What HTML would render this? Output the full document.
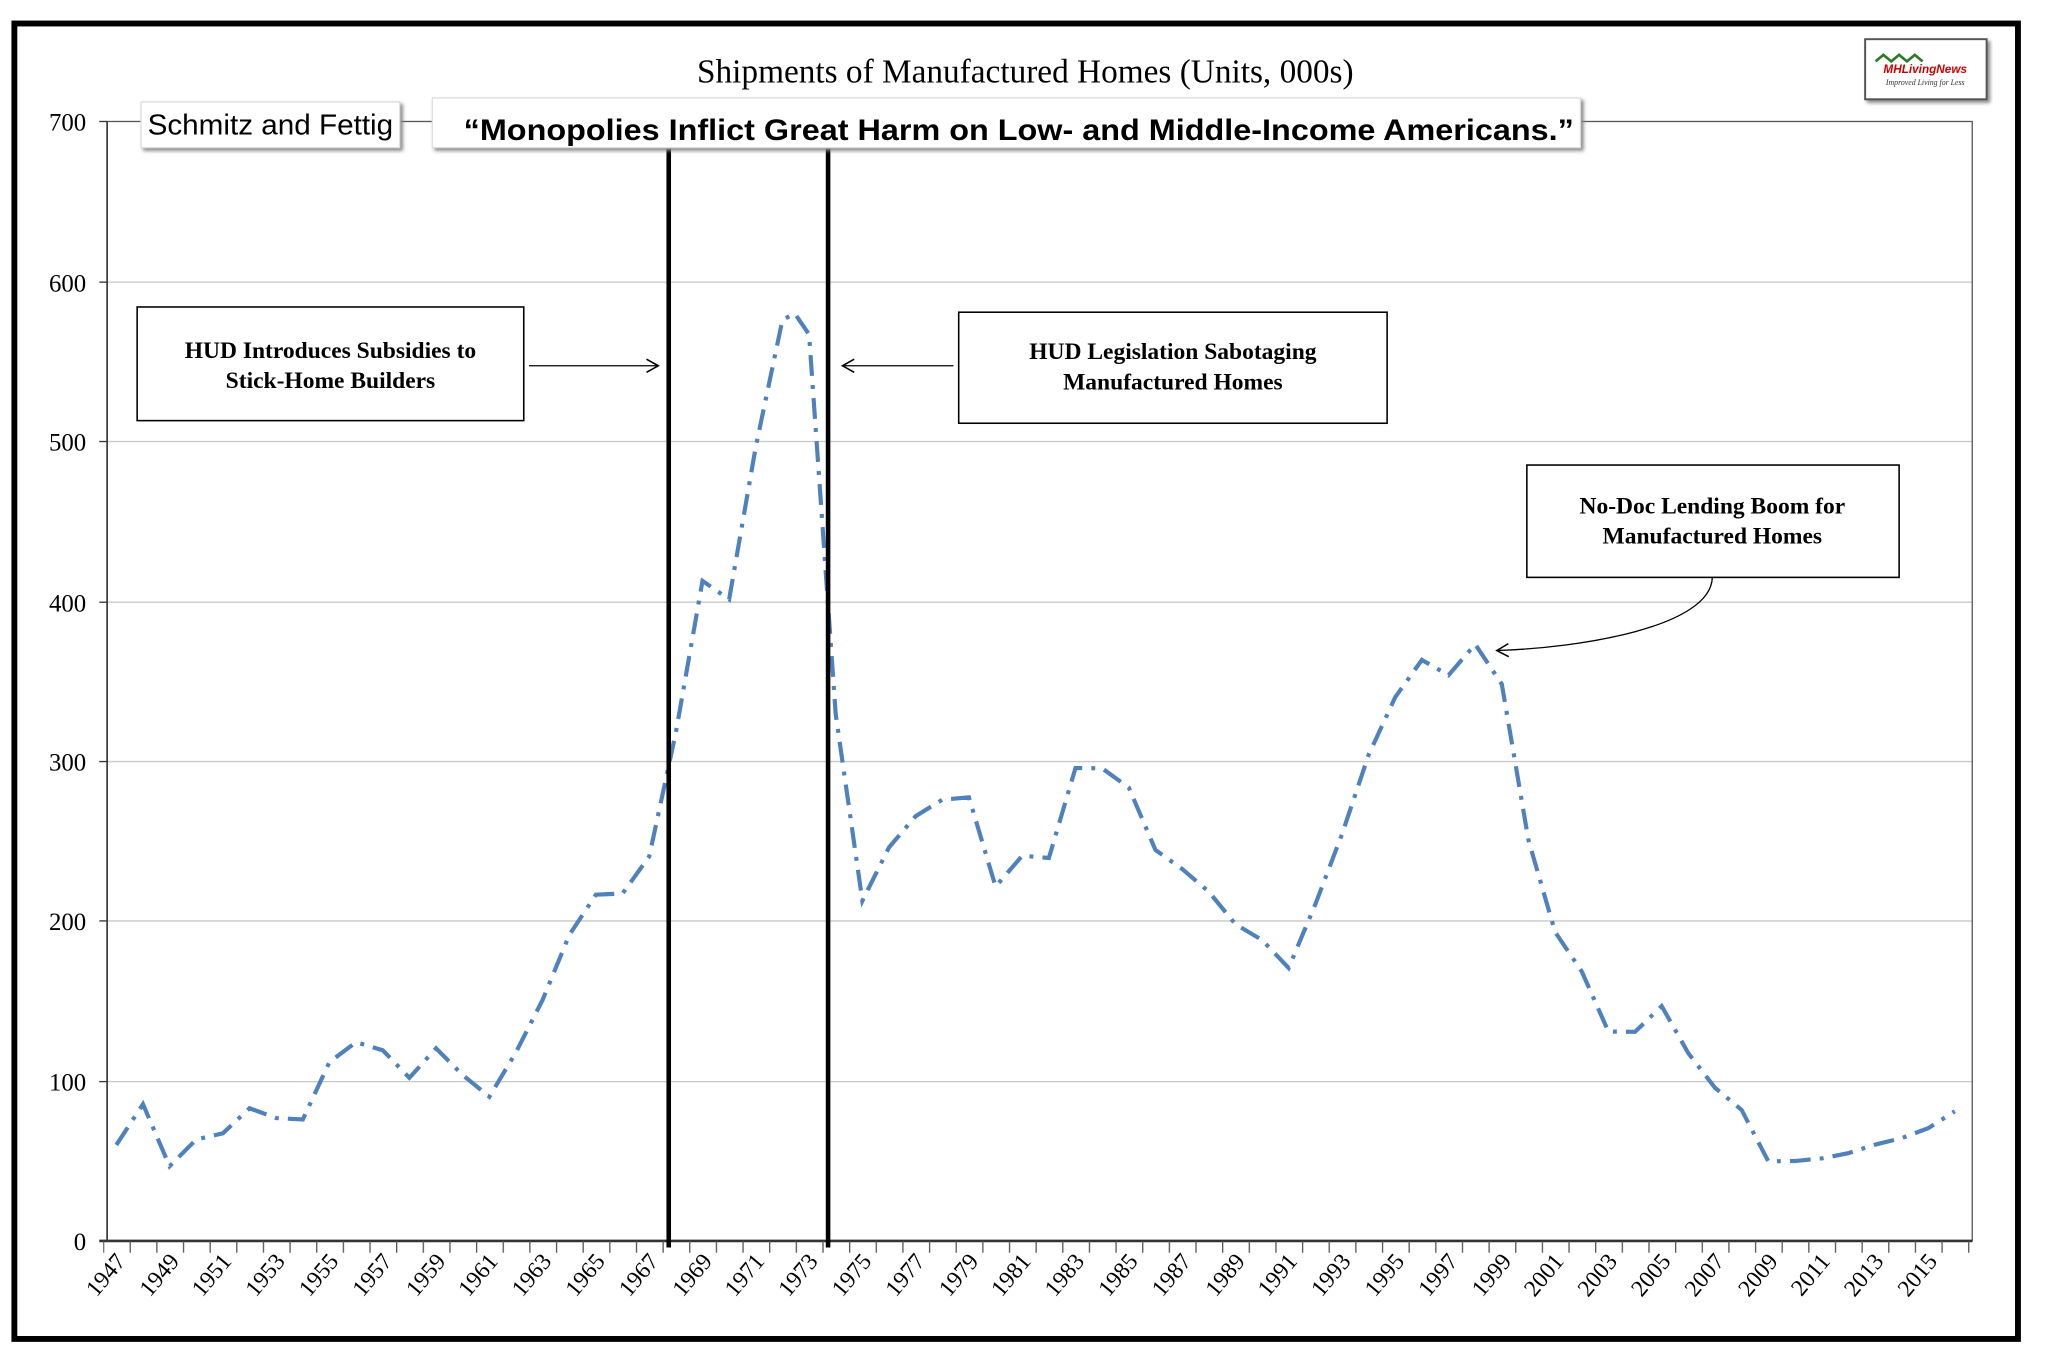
<!DOCTYPE html>
<html><head><meta charset="utf-8"><style>
html,body{margin:0;padding:0;background:#fff;}
svg{display:block;}
</style></head><body>
<svg width="2048" height="1352" viewBox="0 0 1568 1035" preserveAspectRatio="none" xmlns="http://www.w3.org/2000/svg">
<defs>
<pattern id="tk" x="78.8" y="0" width="20.4" height="20" patternUnits="userSpaceOnUse">
<line x1="0.5" y1="0" x2="0.5" y2="20" stroke="#555" stroke-width="1"/>
</pattern>
<marker id="ah" markerWidth="12" markerHeight="12" refX="10" refY="6" orient="auto" markerUnits="userSpaceOnUse">
<path d="M1,1 L10,6 L1,11" fill="none" stroke="#000" stroke-width="1.2"/>
</marker>
<filter id="sh" x="-5%" y="-20%" width="110%" height="150%"><feDropShadow dx="2" dy="2" stdDeviation="1.5" flood-color="#888"/></filter>
</defs>
<rect x="0" y="0" width="1568" height="1035" fill="#fff"/>
<rect x="11" y="18" width="1534" height="1007" fill="#fff" stroke="#000" stroke-width="4.5"/>
<g stroke="#c8c8c8" stroke-width="1">
<line x1="82" y1="216" x2="1510" y2="216"/>
<line x1="82" y1="338" x2="1510" y2="338"/>
<line x1="82" y1="461" x2="1510" y2="461"/>
<line x1="82" y1="583" x2="1510" y2="583"/>
<line x1="82" y1="705" x2="1510" y2="705"/>
<line x1="82" y1="828" x2="1510" y2="828"/>
</g>
<rect x="82" y="93" width="1428" height="857" fill="none" stroke="#555" stroke-width="1"/>
<line x1="82" y1="93" x2="82" y2="950" stroke="#333" stroke-width="1.2"/>
<line x1="76" y1="950" x2="1510" y2="950" stroke="#333" stroke-width="2"/>
<g stroke="#333" stroke-width="1">
<line x1="76" y1="93" x2="82" y2="93"/><line x1="76" y1="216" x2="82" y2="216"/><line x1="76" y1="338" x2="82" y2="338"/><line x1="76" y1="461" x2="82" y2="461"/><line x1="76" y1="583" x2="82" y2="583"/><line x1="76" y1="705" x2="82" y2="705"/><line x1="76" y1="828" x2="82" y2="828"/>
</g>
<rect x="79" y="950" width="1432" height="9" fill="url(#tk)"/>
<g font-family="Liberation Serif, serif" font-size="19" text-anchor="end" fill="#000">
<text x="66" y="100">700</text><text x="66" y="223">600</text><text x="66" y="345">500</text><text x="66" y="468">400</text><text x="66" y="590">300</text><text x="66" y="712">200</text><text x="66" y="835">100</text><text x="66" y="957">0</text>
</g>
<g font-family="Liberation Serif, serif" font-size="18" text-anchor="end" fill="#000">
<text transform="translate(97,966) rotate(-50)">1947</text>
<text transform="translate(138,966) rotate(-50)">1949</text>
<text transform="translate(178,966) rotate(-50)">1951</text>
<text transform="translate(219,966) rotate(-50)">1953</text>
<text transform="translate(260,966) rotate(-50)">1955</text>
<text transform="translate(301,966) rotate(-50)">1957</text>
<text transform="translate(342,966) rotate(-50)">1959</text>
<text transform="translate(382,966) rotate(-50)">1961</text>
<text transform="translate(423,966) rotate(-50)">1963</text>
<text transform="translate(464,966) rotate(-50)">1965</text>
<text transform="translate(505,966) rotate(-50)">1967</text>
<text transform="translate(546,966) rotate(-50)">1969</text>
<text transform="translate(586,966) rotate(-50)">1971</text>
<text transform="translate(627,966) rotate(-50)">1973</text>
<text transform="translate(668,966) rotate(-50)">1975</text>
<text transform="translate(709,966) rotate(-50)">1977</text>
<text transform="translate(750,966) rotate(-50)">1979</text>
<text transform="translate(790,966) rotate(-50)">1981</text>
<text transform="translate(831,966) rotate(-50)">1983</text>
<text transform="translate(872,966) rotate(-50)">1985</text>
<text transform="translate(913,966) rotate(-50)">1987</text>
<text transform="translate(954,966) rotate(-50)">1989</text>
<text transform="translate(994,966) rotate(-50)">1991</text>
<text transform="translate(1035,966) rotate(-50)">1993</text>
<text transform="translate(1076,966) rotate(-50)">1995</text>
<text transform="translate(1117,966) rotate(-50)">1997</text>
<text transform="translate(1158,966) rotate(-50)">1999</text>
<text transform="translate(1198,966) rotate(-50)">2001</text>
<text transform="translate(1239,966) rotate(-50)">2003</text>
<text transform="translate(1280,966) rotate(-50)">2005</text>
<text transform="translate(1321,966) rotate(-50)">2007</text>
<text transform="translate(1362,966) rotate(-50)">2009</text>
<text transform="translate(1402,966) rotate(-50)">2011</text>
<text transform="translate(1443,966) rotate(-50)">2013</text>
<text transform="translate(1484,966) rotate(-50)">2015</text>
</g>
<g transform="matrix(0.9951,0,0,1,-0.5,0)">
<polyline fill="none" stroke="#4f81bd" stroke-width="3.2" stroke-dasharray="16,7,3,7" points="90,876.5 110.5,845.3 131,892.8 151.5,872.3 172,867.6 192.5,848.4 213,855.9 233.5,857 254,813 274.5,797.8 295,804 315.5,825.1 336,802.5 356.5,823 377,839.6 397.5,805.5 418,765.4 438.5,715.8 459,684.9 479.5,684 500,655.7 520.5,560.8 541,444.7 561.5,458.8 582,342 602.5,244.9 612,240 623,256 643.5,546.8 664,689.6 684.5,648.7 705,624.8 725.5,612.2 746,610.4 766.5,678.7 787,655.1 807.5,656.8 828,587.9 848.5,588.2 869,602.9 889.5,650.7 910,665.2 930.5,682.6 951,707.5 971.5,719.6 992,741 1012.5,692.3 1033,638.7 1053.5,577.9 1074,533.7 1094.5,505.2 1115,516.9 1135.5,493.2 1156,523.8 1176.5,643.2 1197,713.5 1217.5,743.7 1238,789.7 1258.5,789.9 1279,770.2 1299.5,806.3 1320,832.7 1340.5,849.7 1361,889 1381.5,888.8 1402,886.8 1422.5,882.8 1443,876.3 1463.5,871.3 1484,863.7 1504.5,850.7"/>
</g>
<line x1="512" y1="113" x2="512" y2="955" stroke="#000" stroke-width="3.5"/>
<line x1="634" y1="113" x2="634" y2="955" stroke="#000" stroke-width="3.5"/>
<text x="785" y="63" font-family="Liberation Serif, serif" font-size="25.5" text-anchor="middle">Shipments of Manufactured Homes (Units, 000s)</text>
<rect x="108" y="78" width="198" height="35" fill="#fff" stroke="#ddd" stroke-width="1" filter="url(#sh)"/>
<text x="207" y="103" font-family="Liberation Sans, sans-serif" font-size="22" text-anchor="middle" textLength="188" lengthAdjust="spacingAndGlyphs">Schmitz and Fettig</text>
<rect x="331" y="75" width="879" height="38" fill="#fff" stroke="#ddd" stroke-width="1" filter="url(#sh)"/>
<text x="780" y="107" font-family="Liberation Sans, sans-serif" font-size="23" font-weight="bold" text-anchor="middle" textLength="850" lengthAdjust="spacingAndGlyphs">“Monopolies Inflict Great Harm on Low- and Middle-Income Americans.”</text>
<rect x="1428" y="30" width="93" height="46" fill="#fff" stroke="#555" stroke-width="1.5" filter="url(#sh)"/>
<text x="1474" y="56" font-family="Liberation Sans, sans-serif" font-size="9" font-weight="bold" font-style="italic" text-anchor="middle" fill="#c00">MHLivingNews</text>
<path d="M1436,47 l6,-5 l6,5 l6,-5 l6,5 l6,-5 l6,5" fill="none" stroke="#2a7a2a" stroke-width="2"/>
<text x="1474" y="65" font-family="Liberation Serif, serif" font-size="6" font-style="italic" text-anchor="middle" fill="#333">Improved Living for Less</text>
<rect x="105" y="235" width="296" height="87" fill="#fff" stroke="#000" stroke-width="1.2"/>
<g font-family="Liberation Serif, serif" font-size="18" font-weight="bold" text-anchor="middle">
<text x="253" y="274">HUD Introduces Subsidies to</text>
<text x="253" y="297">Stick-Home Builders</text>
</g>
<line x1="405" y1="280" x2="504" y2="280" stroke="#000" stroke-width="1" marker-end="url(#ah)"/>
<rect x="734" y="239" width="328" height="85" fill="#fff" stroke="#000" stroke-width="1.2"/>
<g font-family="Liberation Serif, serif" font-size="18" font-weight="bold" text-anchor="middle">
<text x="898" y="275">HUD Legislation Sabotaging</text>
<text x="898" y="298">Manufactured Homes</text>
</g>
<line x1="730" y1="280" x2="645" y2="280" stroke="#000" stroke-width="1" marker-end="url(#ah)"/>
<rect x="1169" y="356" width="285" height="86" fill="#fff" stroke="#000" stroke-width="1.2"/>
<g font-family="Liberation Serif, serif" font-size="18" font-weight="bold" text-anchor="middle">
<text x="1311" y="393">No-Doc Lending Boom for</text>
<text x="1311" y="416">Manufactured Homes</text>
</g>
<path d="M1311,442 C1310,480 1210,496 1146,498" fill="none" stroke="#000" stroke-width="1" marker-end="url(#ah)"/>
</svg>
</body></html>
